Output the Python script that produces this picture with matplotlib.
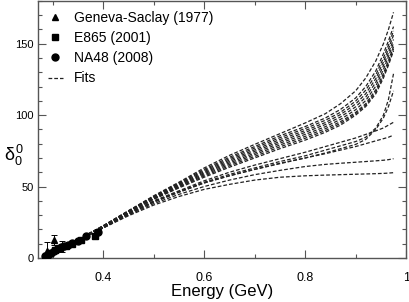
import matplotlib
matplotlib.use("Agg")
import matplotlib.pyplot as plt
from matplotlib.lines import Line2D
from matplotlib.ticker import MultipleLocator, FuncFormatter

plt.rcParams['font.family'] = ['Liberation Sans', 'DejaVu Sans']
plt.rcParams['mathtext.fontset'] = 'custom'
plt.rcParams['mathtext.rm'] = 'Liberation Sans'
plt.rcParams['mathtext.it'] = 'Liberation Sans'

energy = [0.28, 0.34, 0.40, 0.45, 0.50, 0.55, 0.60, 0.65, 0.70, 0.75,
          0.80, 0.84, 0.87, 0.90, 0.92, 0.94, 0.955, 0.965, 0.975]

fits = [
    # top curve
    [0, 11, 22.5, 33, 43.5, 53, 63, 71.8, 79.5, 87, 94.5, 101, 108, 117, 126, 138, 150, 160, 172],
    # main bundle
    [0, 11, 22.5, 33, 43, 52.5, 62, 70.5, 78, 85.5, 92, 98, 104, 112, 120, 131, 143, 152, 162],
    [0, 11, 22.4, 32.8, 42.7, 52, 61.2, 69.5, 76.9, 84.2, 90.6, 96.4, 102, 109.8, 117.5, 128.2, 140, 149, 159],
    [0, 10.9, 22.2, 32.6, 42.4, 51.5, 60.4, 68.5, 75.7, 82.9, 89.2, 94.8, 100.4, 107.8, 115, 125.6, 137.3, 146.4, 156],
    [0, 10.8, 22.1, 32.4, 42.1, 51, 59.6, 67.5, 74.6, 81.6, 87.9, 93.4, 98.7, 105.8, 112.6, 123, 134.6, 143.7, 153],
    [0, 10.8, 22, 32.2, 41.8, 50.5, 58.9, 66.5, 73.4, 80.4, 86.5, 91.9, 97, 103.8, 110.2, 120.4, 131.9, 141, 150.5],
    [0, 10.7, 21.8, 32, 41.5, 50, 58.1, 65.5, 72.3, 79.1, 85.1, 90.5, 95.4, 101.9, 108, 117.8, 129.2, 138.2, 148],
    [0, 10.6, 21.7, 31.8, 41.3, 49.5, 57.3, 64.5, 71.1, 77.8, 83.8, 89.2, 94.2, 101, 107, 116.4, 127.5, 136.5, 146.5],
    [0, 10.5, 21.5, 31.5, 41, 49, 56.5, 63.5, 70, 76.5, 82.5, 88, 93, 100, 106, 115, 126, 135, 145],
    # late risers
    [0, 10.5, 21.5, 31, 39.5, 46.5, 53, 58.5, 63, 67.5, 71.5, 75.5, 78.5, 81.5, 84.5, 91, 100, 111, 129],
    [0, 10.5, 21.3, 30.8, 39.2, 46, 52.5, 57.5, 62, 66.3, 70, 73.5, 76.5, 79.5, 83, 90, 98, 106, 117],
    # flatter curves
    [0, 10.5, 21.5, 31, 40, 47, 54, 60, 65, 69.5, 74, 78, 81, 84, 86.5, 89, 91, 93, 95],
    [0, 10.5, 21, 30.5, 39, 46, 52.5, 57.5, 62, 66, 70, 73, 75.5, 78, 80, 82, 83.5, 84.5, 86],
    [0, 10.5, 21, 30, 38, 44.5, 50, 54.5, 58.3, 61.3, 64, 65.5, 66.3, 67, 67.5, 68, 68.4, 68.8, 69.5],
    [0, 10.5, 21, 29.5, 37, 43, 48, 51.5, 54.5, 56.5, 57.5, 58, 58.3, 58.6, 58.8, 59, 59.2, 59.4, 59.7],
]

# Geneva-Saclay (1977)
gs_e = [0.288, 0.302, 0.318]
gs_d = [5.0, 12.4, 8.0]
gs_err = [6.0, 3.5, 3.8]

# E865 (2001)
e865_e = [0.286, 0.295, 0.305, 0.315, 0.326, 0.338, 0.356, 0.383]
e865_d = [1.5, 3.3, 5.2, 7.0, 8.4, 10.0, 12.6, 15.4]
e865_err = [0.8, 0.9, 1.0, 1.1, 1.2, 1.3, 1.6, 2.0]

# NA48 (2008)
na48_e = [0.285, 0.291, 0.297, 0.303, 0.309, 0.316, 0.323, 0.330, 0.339, 0.351, 0.366, 0.389]
na48_d = [1.0, 2.3, 3.6, 4.8, 6.0, 7.3, 8.3, 9.2, 10.3, 12.0, 15.2, 18.3]
na48_err = [0.5, 0.5, 0.5, 0.6, 0.6, 0.6, 0.7, 0.7, 0.8, 0.9, 1.2, 1.6]

fig = plt.figure(figsize=(4.09, 3.02), dpi=100)
ax = fig.add_axes([0.093, 0.146, 0.9, 0.851])

dash = (0, (3, 1.6))
for f in fits:
    ax.plot(energy, f, linestyle=dash, color='#222222', linewidth=0.9, zorder=2)

ax.errorbar(gs_e, gs_d, yerr=gs_err, fmt='^', color='black', markersize=5,
            capsize=2, elinewidth=0.7, capthick=0.7, zorder=3)
ax.errorbar(e865_e, e865_d, yerr=e865_err, fmt='s', color='black', markersize=4.5,
            capsize=2, elinewidth=0.7, capthick=0.7, zorder=3)
ax.errorbar(na48_e, na48_d, yerr=na48_err, fmt='o', color='black', markersize=5,
            capsize=2, elinewidth=0.7, capthick=0.7, zorder=3)

ax.set_xlim(0.271, 1.0)
ax.set_ylim(0, 180)
ax.xaxis.set_major_locator(MultipleLocator(0.2))
ax.xaxis.set_minor_locator(MultipleLocator(0.1))
ax.yaxis.set_major_locator(MultipleLocator(50))
ax.yaxis.set_minor_locator(MultipleLocator(10))
ax.xaxis.set_major_formatter(FuncFormatter(lambda v, p: '%g' % round(v, 3)))

ax.tick_params(which='both', direction='in', top=True, right=True,
               color='#555555', labelsize=8)
ax.tick_params(which='major', length=5.5, width=0.8)
ax.tick_params(which='minor', length=3, width=0.8)
ax.tick_params(axis='x', which='major', pad=10, labelsize=9)
ax.tick_params(axis='y', which='major', pad=3)
for s in ax.spines.values():
    s.set_color('#555555')
    s.set_linewidth(1.0)

ax.set_xlabel('Energy (GeV)', fontsize=12, labelpad=0)
ax.set_ylabel(r'$\delta_0^0$', fontsize=13, rotation=0, va='center')
ax.yaxis.set_label_coords(-0.065, 0.40)

handles = [
    Line2D([], [], marker='^', color='black', linestyle='none', markersize=5),
    Line2D([], [], marker='s', color='black', linestyle='none', markersize=4.5),
    Line2D([], [], marker='o', color='black', linestyle='none', markersize=5),
    Line2D([], [], linestyle=dash, color='#222222', linewidth=0.9),
]
labels = ['Geneva-Saclay (1977)', 'E865 (2001)', 'NA48 (2008)', 'Fits']
ax.legend(handles, labels, loc='upper left', bbox_to_anchor=(0.0, 1.0), frameon=False,
          fontsize=10, handlelength=1.1, handletextpad=0.8, labelspacing=0.45,
          borderpad=0.2)

fig.savefig('out.png', dpi=100)
